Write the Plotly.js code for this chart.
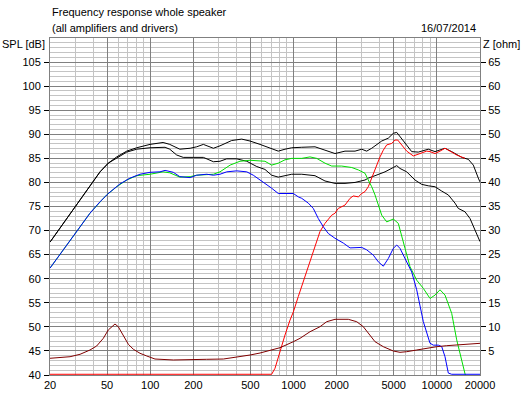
<!DOCTYPE html>
<html>
<head>
<meta charset="utf-8">
<script src="https://cdn.plot.ly/plotly-3.0.1.min.js"></script>
<style>html,body{margin:0;padding:0;background:#fff;}#chart{width:523px;height:396px;}</style>
</head>
<body>
<div id="chart"></div>
<script>
// ---- data ----
const sumFreq = [20,27.6,32.4,38,44.7,51,58.4,68.6,80.5,99.7,123,137,161,190,211,235,276,307,370,435,497,584,704,783,872,971,1141,1412,1658,1947,2287,2686,2991,3240,3512,3704,4124,4586,4969,5248,5533,6162,6676,7423,8716,9711,11400,12696,14908,16576,17964,19465,20000];
const sumSPL  = [67.6,73.4,76.3,79.1,82.2,84.0,85.3,86.5,87.2,87.9,88.3,87.9,86.9,87.1,87.4,87.9,87.1,87.6,88.7,89.0,88.6,87.9,86.9,86.5,86.9,87.2,87.3,87.4,86.7,86.0,86.5,86.5,86.9,86.5,87.1,87.6,88.6,89.2,90.2,90.4,89.5,87.8,86.4,86.3,86.9,86.4,87.1,86.4,85.2,84.8,83.6,80.9,80.1];

const lowFreq = [20,27.6,32.4,38,44.7,51,58.4,68.6,80.5,99.7,127,137,153,170,200,235,276,307,342,401,472,554,632,704,783,971,1141,1412,1658,1947,2287,2686,3153,3324,3704,4349,4969,5248,5533,6162,7039,7840,8716,9711,10811,12022,13386,14116,15720,17036,18462,20000];
const lowSPL  = [67.6,73.4,76.3,79.1,82.2,84.0,85.1,86.3,86.9,87.2,87.3,86.9,85.7,85.2,85.2,85.2,84.3,84.4,84.9,84.9,84.4,83.3,82.7,81.5,81.1,81.7,81.7,81.4,80.3,79.8,79.8,80.0,80.5,80.9,81.4,82.2,83.1,83.5,82.9,82.2,80.5,79.6,79.3,79.1,78.2,77.4,75.7,74.6,73.9,72.5,70.1,67.7];

const midFreq = [20,24.8,30.7,38,45.9,49.7,58.4,68.6,80.5,99.7,123,137,161,190,211,248,276,307,361,423,497,632,704,783,872,971,1141,1303,1451,1658,1847,2168,2547,2832,3153,3324,3512,3704,3906,4124,4469,4969,5383,5685,5998,6497,7234,8044,8959,9711,10520,11400,12696,13758,14908,15720,17036,20000];
const midSPL  = [62.2,66.0,69.8,73.6,76.3,77.4,79.1,80.5,81.4,81.7,82.2,82.0,81.1,81.2,81.5,81.7,81.7,82.2,83.6,84.4,84.6,84.4,83.6,84.0,84.7,85.0,85.0,85.3,85.0,84.0,83.4,83.4,83.1,82.6,81.9,80.5,79.1,77.4,75.3,73.2,71.8,72.4,71.5,69.1,66.3,62.5,59.7,58.0,55.9,56.6,57.7,56.6,52.8,47.3,43.1,40.0,36.0,30.0];

const wooFreq = [20,24.8,30.7,38,44.7,51,61.6,72.3,84.9,99.7,117,127,145,161,190,211,248,276,307,342,401,472,524,632,704,783,997,1080,1141,1268,1374,1489,1613,1748,1947,2226,2479,2991,3240,3604,3906,4231,4586,4969,5248,5533,5998,6322,6676,7234,8044,8959,9448,10238,10811,11400,12022,12696,20000];
const wooSPL  = [62.2,66.0,69.8,73.6,76.0,77.7,79.7,80.9,81.7,82.1,82.2,82.5,82.1,81.2,81.0,81.5,81.7,81.5,81.7,82.2,82.4,82.2,81.5,79.9,78.8,77.7,77.7,77.0,76.7,75.7,74.6,72.5,70.8,69.4,68.4,67.4,66.4,66.5,66.0,64.9,63.5,62.6,64.2,66.3,67.0,66.3,64.2,62.8,61.4,57.7,51.1,46.6,46.2,46.2,45.9,43.8,40.4,40.15,40.15];

const twFreq = [20,704,743,783,827,872,945,997,1080,1170,1236,1339,1451,1530,1658,1847,1947,2053,2287,2479,2613,2832,2991,3153,3324,3512,3704,4012,4231,4469,4842,5106,5333,5685,6162,6850,7629,8495,8959,9711,10520,11400,12354,13758,15720];
const twSPL  = [40.15,40.15,41.4,43.8,46.2,48.3,51.4,53.1,56.3,59.4,61.8,64.6,67.7,69.8,71.5,73.2,73.6,74.6,75.3,76.7,77.2,77.0,77.7,78.1,79.1,80.9,82.9,85.3,86.7,87.8,88.1,88.8,88.8,87.8,86.5,85.5,86.0,86.5,86.4,86.0,86.5,87.1,86.5,85.7,85.0];

const zFreq = [20,23.5,27.6,32.4,38,42.3,47.1,51,53.9,56.8,59.9,64.9,70.4,76.3,84.9,94.6,108,145,200,248,324,423,497,584,685,805,997,1110,1303,1530,1704,1947,2411,2760,3068,3417,3704,4231,4969,5533,6162,7234,8495,9977,11716,14506,17964,20000];
const zOhm  = [3.47,3.59,3.80,4.30,5.19,6.02,7.62,9.35,10.03,10.59,10.03,8.31,6.38,5.34,4.51,3.95,3.32,3.12,3.12,3.26,3.32,3.80,4.15,4.57,5.19,5.67,6.92,7.62,8.99,10.03,11.07,11.57,11.57,11.07,10.03,8.31,6.92,5.88,4.98,4.71,4.84,5.19,5.55,5.88,6.09,6.23,6.44,6.58];

const xMajorTicks = [20,50,100,200,500,1000,2000,5000,10000,20000];
const xMajorText  = ["20","50","100","200","500","1000","2000","5000","10000","20000"];
const xMinorTicks = [30,40,60,70,80,90,300,400,600,700,800,900,3000,4000,6000,7000,8000,9000];
const splTicks = [40,45,50,55,60,65,70,75,80,85,90,95,100,105];
const zTicks = [5,10,15,20,25,30,35,40,45,50,55,60,65];

const FONT = "Liberation Sans, Arial, sans-serif";
const FS = 11;
function line(x, y, color, axis) {
  return {x: x, y: y, type: 'scatter', mode: 'lines', yaxis: axis || 'y',
          line: {color: color, width: 1}, hoverinfo: 'skip', showlegend: false};
}

const traces = [
  line(zFreq, zOhm, '#800000', 'y2'),
  line(lowFreq, lowSPL, '#000000'),
  line(sumFreq, sumSPL, '#000000'),
  line(twFreq, twSPL, '#ff0000'),
  line(midFreq, midSPL, '#00e000'),
  line(wooFreq, wooSPL, '#0000ff')
];

const layout = {
  width: 523, height: 396,
  margin: {l: 50, r: 43, t: 38, b: 21, pad: 0},
  paper_bgcolor: '#ffffff', plot_bgcolor: '#ffffff',
  font: {family: FONT, size: FS, color: '#000'},
  showlegend: false,
  xaxis: {
    type: 'log', range: [Math.log10(20), Math.log10(20000)],
    tickmode: 'array', tickvals: xMajorTicks, ticktext: xMajorText,
    showgrid: true, gridcolor: '#808080', gridwidth: 1,
    ticks: '', ticklen: 0, zeroline: false,
    showline: true, linecolor: '#808080', linewidth: 1, mirror: true,
    tickfont: {family: FONT, size: FS},
    minor: {tickmode: 'array', tickvals: xMinorTicks, showgrid: true, gridcolor: '#c4c4c4', gridwidth: 1, ticks: ''}
  },
  yaxis: {
    range: [40, 110], tickmode: 'array', tickvals: splTicks,
    showgrid: true, gridcolor: '#808080', gridwidth: 1,
    ticks: 'outside', ticklen: 5, tickcolor: '#000', ticklabelstandoff: 1,
    zeroline: false, showline: true, linecolor: '#808080', mirror: true,
    tickfont: {family: FONT, size: FS},
    minor: {dtick: 1, showgrid: true, gridcolor: '#c4c4c4', gridwidth: 1, ticks: ''}
  },
  yaxis2: {
    overlaying: 'y', side: 'right', range: [0, 70],
    tickmode: 'array', tickvals: zTicks, showgrid: false, zeroline: false,
    ticks: 'outside', ticklen: 5, tickcolor: '#000',
    tickfont: {family: FONT, size: FS}
  },
  annotations: [
    {xref: 'paper', yref: 'paper', x: 0, y: 1.077, xanchor: 'left', yanchor: 'middle',
     text: 'Frequency response whole speaker', showarrow: false, font: {family: FONT, size: FS}},
    {xref: 'paper', yref: 'paper', x: 0, y: 1.03, xanchor: 'left', yanchor: 'middle',
     text: '(all amplifiers and drivers)', showarrow: false, font: {family: FONT, size: FS}},
    {xref: 'paper', yref: 'paper', x: 0.995, y: 1.03, xanchor: 'right', yanchor: 'middle',
     text: '16/07/2014', showarrow: false, font: {family: FONT, size: FS}},
    {xref: 'paper', yref: 'paper', x: -0.006, y: 0.982, xanchor: 'right', yanchor: 'middle',
     text: 'SPL [dB]', showarrow: false, font: {family: FONT, size: FS}},
    {xref: 'paper', yref: 'paper', x: 1.002, y: 0.982, xanchor: 'left', yanchor: 'middle',
     text: 'Z [ohm]', showarrow: false, font: {family: FONT, size: FS}}
  ]
};

Plotly.newPlot('chart', traces, layout, {displayModeBar: false, staticPlot: true});
</script>
</body>
</html>
